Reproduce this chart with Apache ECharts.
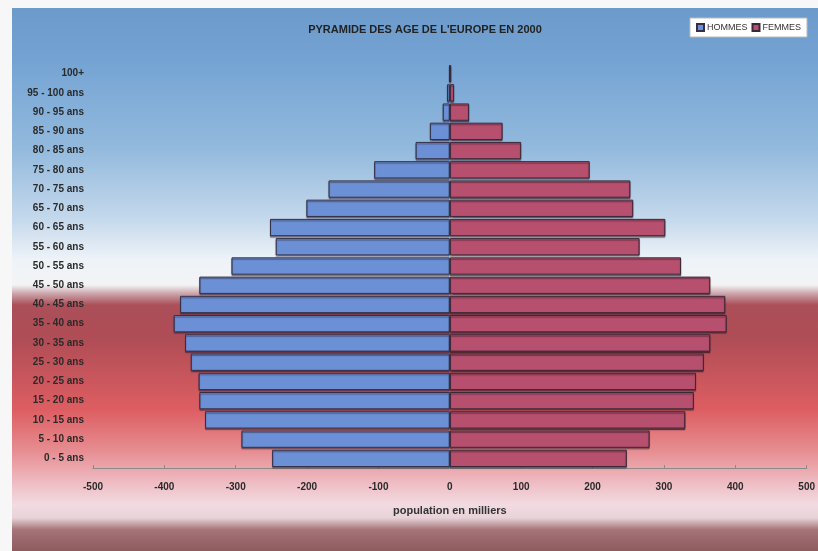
<!DOCTYPE html>
<html>
<head>
<meta charset="utf-8">
<script src="https://cdn.jsdelivr.net/npm/echarts@6/dist/echarts.min.js"></script>
<style>
html,body{margin:0;padding:0;background:#f7f7f7;}
#c{width:818px;height:551px;}
</style>
</head>
<body>
<div id="c"></div>
<script>
var categories = ['0 - 5 ans','5 - 10 ans','10 - 15 ans','15 - 20 ans','20 - 25 ans','25 - 30 ans','30 - 35 ans','35 - 40 ans','40 - 45 ans','45 - 50 ans','50 - 55 ans','55 - 60 ans','60 - 65 ans','65 - 70 ans','70 - 75 ans','75 - 80 ans','80 - 85 ans','85 - 90 ans','90 - 95 ans','95 - 100 ans','100+'];
var hommes = [249, 292, 343, 351, 352, 363, 371, 387, 378, 351, 306, 244, 252, 201, 170, 106, 48, 28, 10, 4, 1];
var femmes = [248, 280, 330, 342, 345, 356, 365, 388, 386, 365, 324, 266, 302, 257, 253, 196, 100, 74, 27, 6, 2];
var xTicks = {min: -500, max: 500, step: 100};

var FONT = '"Liberation Sans Narrow", "Liberation Sans", Arial, sans-serif';
var chart = echarts.init(document.getElementById('c'));
chart.setOption({
  animation: false,
  graphic: [{
    type: 'rect', z: -10, silent: true,
    shape: {x: 12, y: 8, width: 806, height: 543},
    style: {
      fill: new echarts.graphic.LinearGradient(0, 0, 0, 1, [
        {offset: 0, color: '#6b9acb'},
        {offset: 0.096, color: '#74a3d3'},
        {offset: 0.26, color: '#93badd'},
        {offset: 0.39, color: '#c5d9ec'},
        {offset: 0.464, color: '#eef3f8'},
        {offset: 0.51, color: '#f3f3f5'},
        {offset: 0.527, color: '#c9a0a6'},
        {offset: 0.547, color: '#ab4f58'},
        {offset: 0.611, color: '#b04d56'},
        {offset: 0.74, color: '#dd5e62'},
        {offset: 0.814, color: '#e68c90'},
        {offset: 0.878, color: '#efbfc6'},
        {offset: 0.915, color: '#f2dbe2'},
        {offset: 0.939, color: '#e7d3d8'},
        {offset: 0.961, color: '#a47478'},
        {offset: 1, color: '#8e5a5e'}
      ])
    }
  }],
  title: {
    text: "PYRAMIDE DES AGE DE L'EUROPE EN 2000",
    left: 420, top: 19, textAlign: 'center',
    textStyle: {fontFamily: FONT, fontSize: 11, fontWeight: 'bold', color: '#222'}
  },
  legend: {
    data: ['HOMMES', 'FEMMES'],
    right: 11, top: 18, icon: 'rect',
    backgroundColor: '#ffffff', borderColor: '#bbbbbb', borderWidth: 1,
    padding: [5, 6], itemWidth: 7, itemHeight: 7, itemGap: 4,
    textStyle: {fontFamily: FONT, fontSize: 9, color: '#333', padding: [0, 0, 0, -2]}
  },
  grid: {left: 93, right: 11, top: 64, bottom: 83},
  xAxis: {
    type: 'value', min: xTicks.min, max: xTicks.max, interval: xTicks.step,
    name: 'population en milliers', nameLocation: 'middle', nameGap: 37,
    nameTextStyle: {fontFamily: FONT, fontSize: 11, fontWeight: 'bold', color: '#333'},
    axisLine: {show: true, lineStyle: {color: '#8a8a8a'}},
    axisTick: {show: true, inside: true, length: 3, lineStyle: {color: '#8a8a8a'}},
    splitLine: {show: false},
    axisLabel: {fontFamily: FONT, fontSize: 10, fontWeight: 'bold', color: '#2a2a2a', margin: 14}
  },
  yAxis: {
    type: 'category', data: categories,
    axisLine: {show: false}, axisTick: {show: false},
    axisLabel: {fontFamily: FONT, fontSize: 10, fontWeight: 'bold', color: '#2a2a2a', margin: 9}
  },
  series: [{
    name: 'HOMMES', type: 'bar', stack: 'p', barCategoryGap: '10%',
    data: hommes.map(function (v) { return -v; }),
    itemStyle: {color: '#6c90d6', borderColor: '#343048', borderWidth: 1,
      shadowColor: 'rgba(40,30,50,0.5)', shadowOffsetY: 1.5, shadowBlur: 1}
  }, {
    name: 'FEMMES', type: 'bar', stack: 'p', barCategoryGap: '10%',
    data: femmes,
    itemStyle: {color: '#b74f6e', borderColor: '#3a2838', borderWidth: 1,
      shadowColor: 'rgba(40,20,30,0.5)', shadowOffsetY: 1.5, shadowBlur: 1}
  }]
});
</script>
</body>
</html>
